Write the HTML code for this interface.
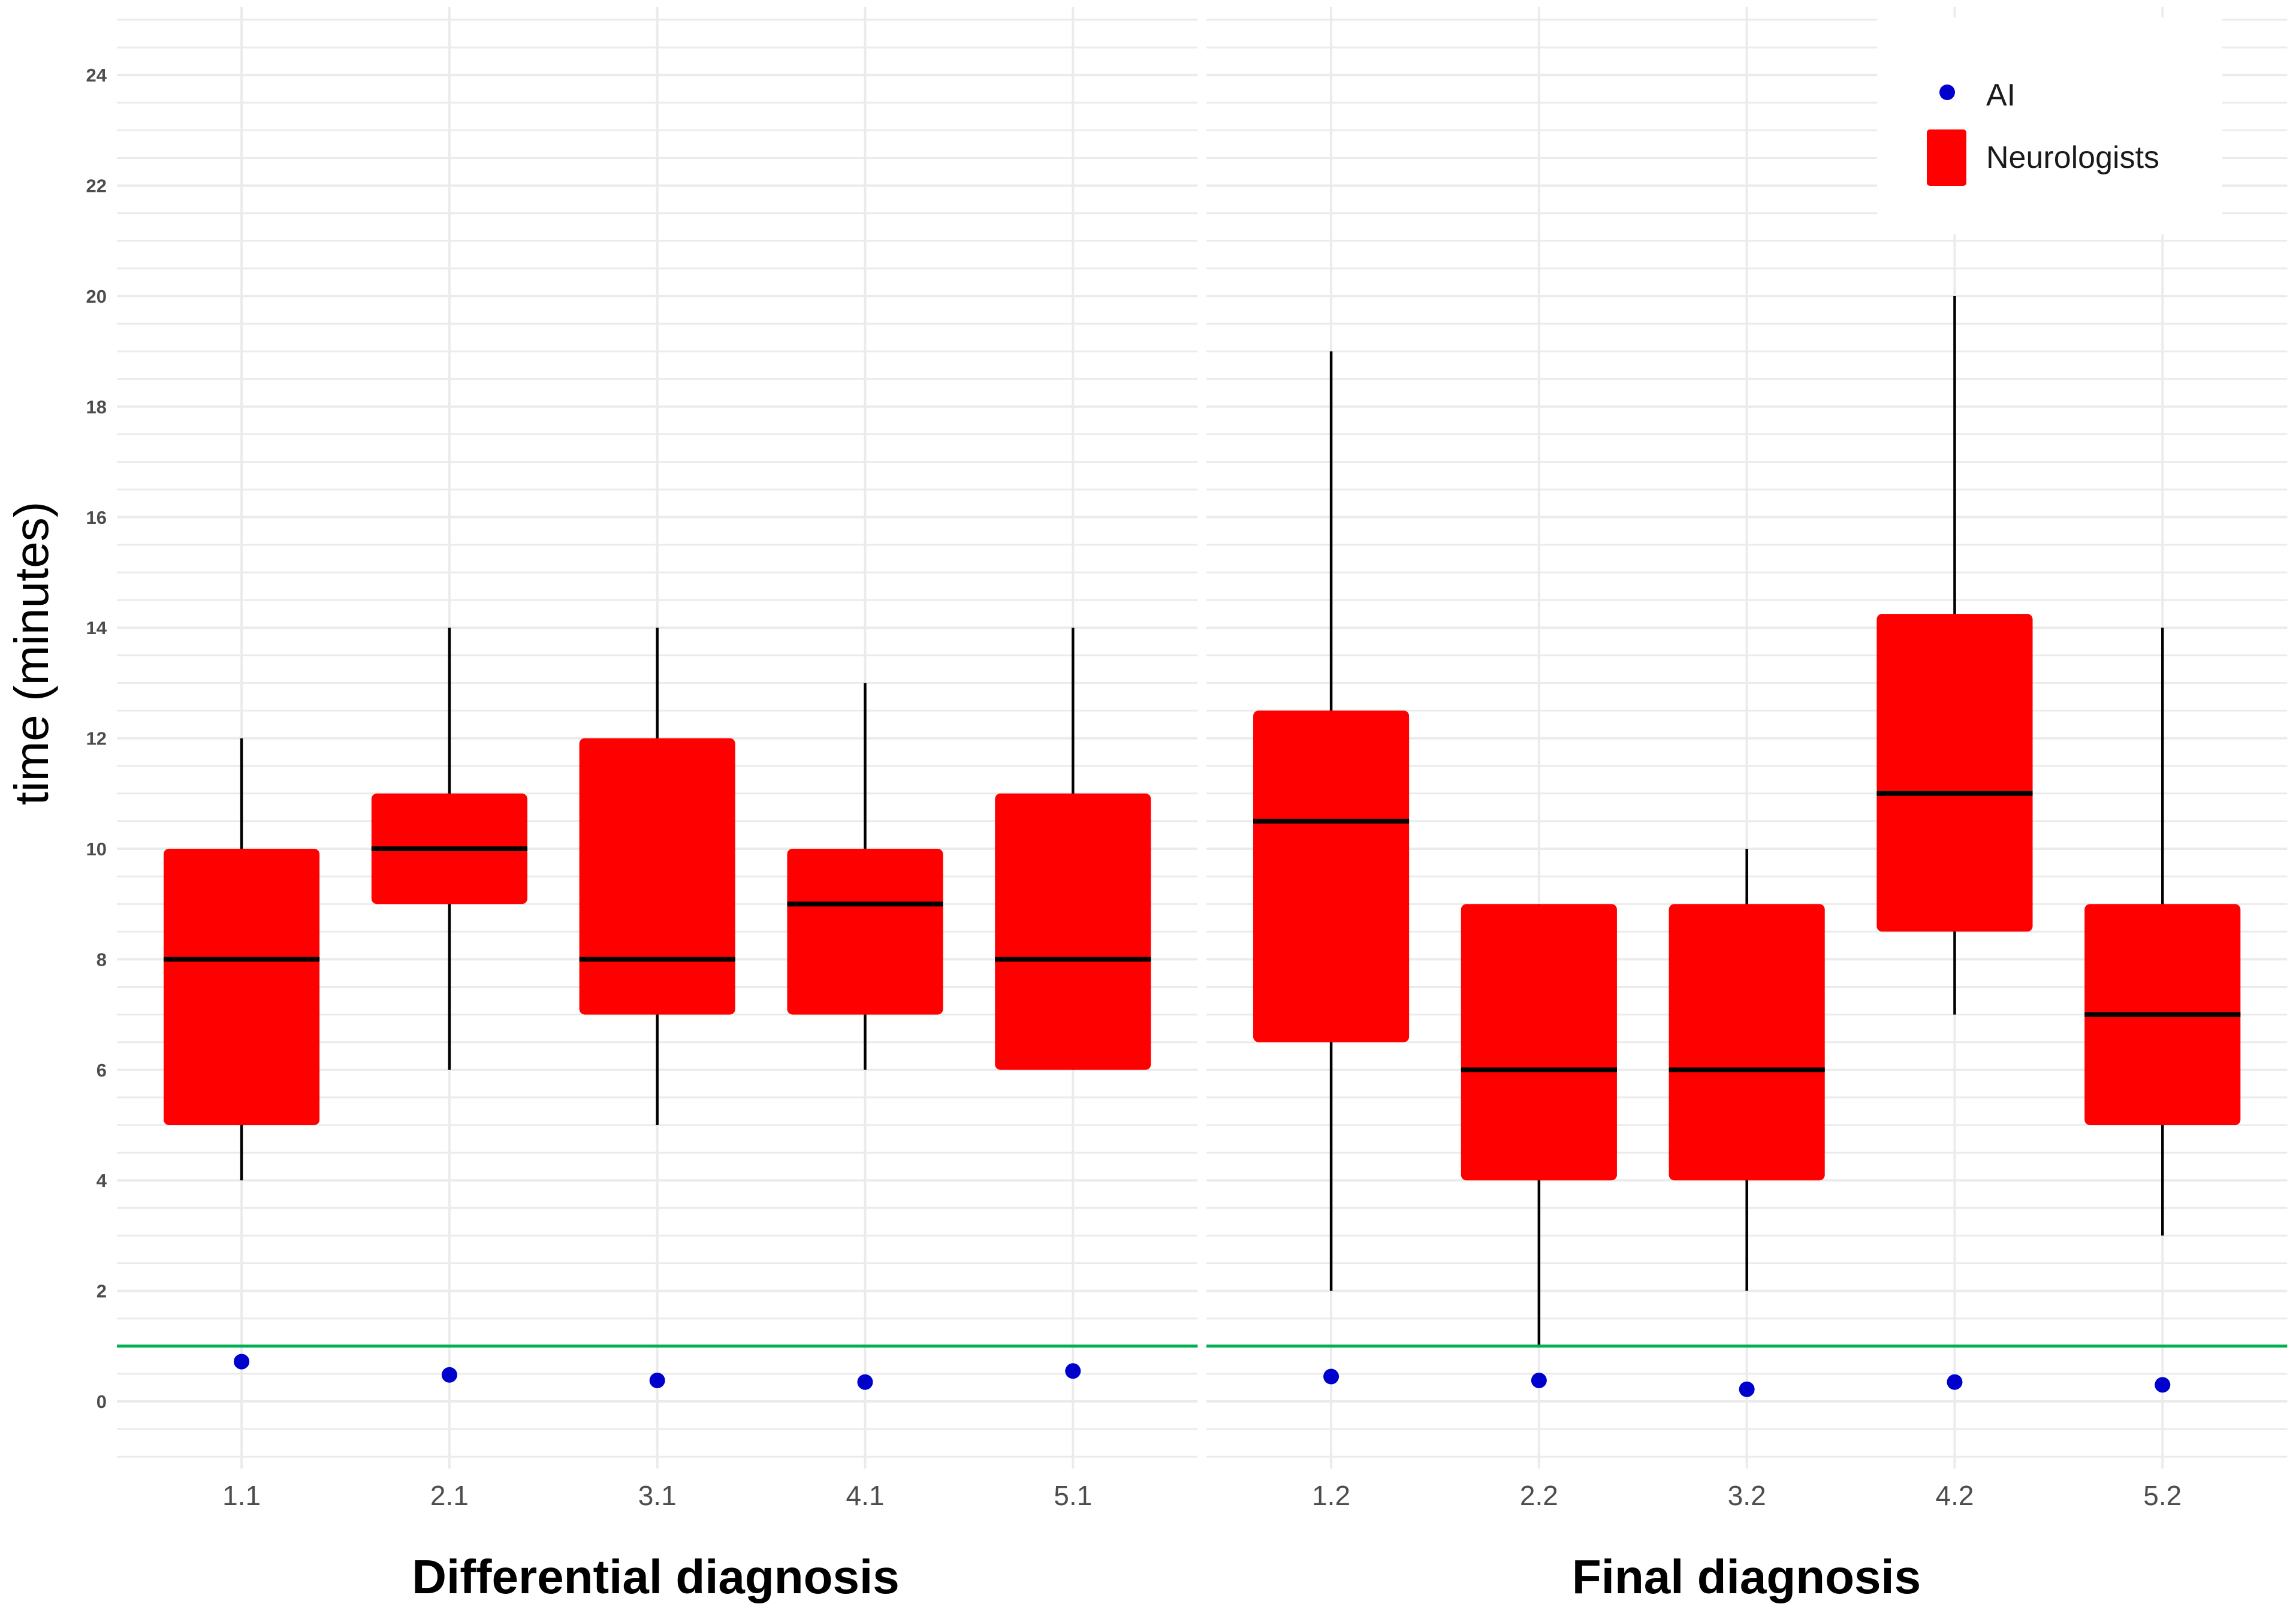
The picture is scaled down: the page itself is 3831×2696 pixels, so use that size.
<!DOCTYPE html>
<html><head><meta charset="utf-8">
<style>
html,body{margin:0;padding:0;background:#fff;}
svg{display:block;font-family:"Liberation Sans",sans-serif;}
</style></head>
<body>
<svg id="chart" width="3831" height="2696" viewBox="0 0 3831 2696" xmlns="http://www.w3.org/2000/svg">
<rect width="3831" height="2696" fill="#fff"/>
<g id="grid"></g>
<g id="marks"></g>
<g id="axes"></g>
<g id="legend">
  <rect x="3132" y="29" width="576" height="362" rx="6" fill="#fff"/>
  <circle cx="3249" cy="154" r="13" fill="#0000cd"/>
  <text x="3314" y="176" font-size="52" fill="#1a1a1a">AI</text>
  <rect x="3215" y="216" width="66" height="94" rx="5" fill="#ff0000"/>
  <text x="3314" y="280" font-size="52" fill="#1a1a1a">Neurologists</text>
</g>
<text x="0" y="0" transform="translate(80,1090) rotate(-90)" text-anchor="middle" font-size="80" fill="#000">time (minutes)</text>
<text x="1094" y="2658" text-anchor="middle" font-size="80" font-weight="bold" fill="#000">Differential diagnosis</text>
<text x="2914" y="2658" text-anchor="middle" font-size="80" font-weight="bold" fill="#000">Final diagnosis</text>
</svg>
<script>
const panels = ["differential", "final"];
const catsLeft = ["1.1","2.1","3.1","4.1","5.1"];
const catsRight = ["1.2","2.2","3.2","4.2","5.2"];
const whiskLowL = [4,6,5,6,6];
const q1L = [5,9,7,7,6];
const medL = [8,10,8,9,8];
const q3L = [10,11,12,10,11];
const whiskHighL = [12,14,14,13,14];
const aiL = [0.72,0.48,0.38,0.35,0.55];
const whiskLowR = [2,1,2,7,3];
const q1R = [6.5,4,4,8.5,5];
const medR = [10.5,6,6,11,7];
const q3R = [12.5,9,9,14.25,9];
const whiskHighR = [19,9,10,20,14];
const aiR = [0.45,0.38,0.22,0.35,0.3];
const yTicks = [0,2,4,6,8,10,12,14,16,18,20,22,24];
const refLine = 1;

const NS = "http://www.w3.org/2000/svg";
const Y0 = 2338, PX = 92.2;
function y(v){ return Y0 - PX*v; }
const panelLeft = [195, 2013];
const STEP = 346.8;
function x(p, i){ return panelLeft[p] + (0.6 + i)*STEP; }
function mk(tag, attrs, parent){
  const e = document.createElementNS(NS, tag);
  for (const k in attrs) e.setAttribute(k, attrs[k]);
  parent.appendChild(e); return e;
}
const grid = document.getElementById("grid");
const marks = document.getElementById("marks");
const axes = document.getElementById("axes");
const PW = 5.2*STEP;

panels.forEach((pn, p) => {
  const L = panelLeft[p];
  for (let v = -1; v <= 25.001; v += 0.5) {
    const major = Math.abs(v - Math.round(v/2)*2) < 1e-6;
    const ln = mk("line", {x1:L, x2:L+PW, y1:y(v), y2:y(v), stroke:"#ebebeb", "stroke-width": major?4:3}, grid);
    
    
  }
  const cats = p===0?catsLeft:catsRight;
  cats.forEach((c, i) => {
    const ln = mk("line", {x1:x(p,i), x2:x(p,i), y1:12, y2:2450, stroke:"#ebebeb", "stroke-width":4}, grid);
    
    
    const t = mk("text", {x:x(p,i), y:2511, "text-anchor":"middle", "font-size":46, fill:"#4d4d4d"}, axes);
    t.textContent = c;
    
    
  });
  const wl = p===0?whiskLowL:whiskLowR, q1 = p===0?q1L:q1R, md = p===0?medL:medR,
        q3 = p===0?q3L:q3R, wh = p===0?whiskHighL:whiskHighR, ai = p===0?aiL:aiR;
  const BW = 0.75*STEP;
  cats.forEach((c, i) => {
    const cx = x(p,i);
    const w = mk("line", {x1:cx, x2:cx, y1:y(wh[i]), y2:y(wl[i]), stroke:"#000", "stroke-width":4.5}, marks);
    
    
    const b = mk("rect", {x:cx-BW/2, y:y(q3[i]), width:BW, height:y(q1[i])-y(q3[i]), rx:9, fill:"#ff0000"}, marks);
    
    
    const m = mk("line", {x1:cx-BW/2, x2:cx+BW/2, y1:y(md[i]), y2:y(md[i]), stroke:"#000", "stroke-width":8}, marks);
    
    
  });
  const g = mk("line", {x1:L, x2:L+PW, y1:y(refLine), y2:y(refLine), stroke:"#00b050", "stroke-width":5}, marks);
  
  
  cats.forEach((c, i) => {
    const d = mk("circle", {cx:x(p,i), cy:y(ai[i]), r:13, fill:"#0000cd"}, marks);
    
    
  });
});
yTicks.forEach(v => {
  const t = mk("text", {x:178, y:y(v)+11, "text-anchor":"end", "font-size":31, "font-weight":"600", fill:"#4d4d4d"}, axes);
  t.textContent = v;
  
  
});
</script>
</body></html>
